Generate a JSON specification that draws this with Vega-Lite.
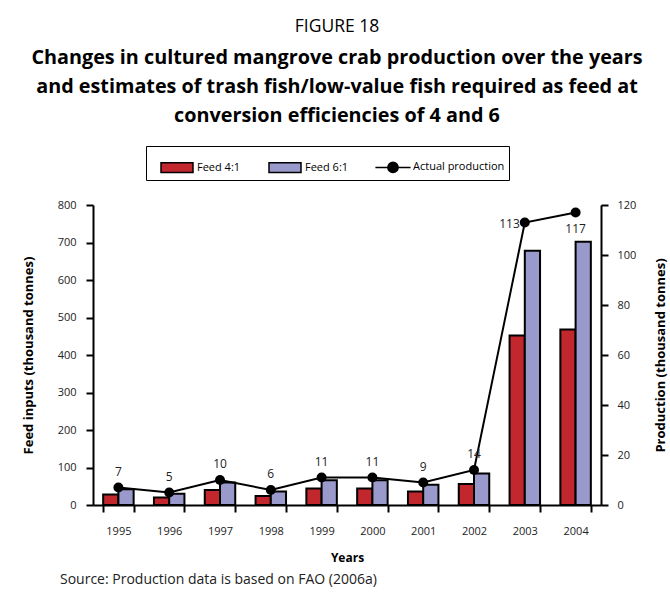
{
  "$schema": "https://vega.github.io/schema/vega-lite/v6.json",
  "padding": {"left": 22, "top": 18, "right": 2, "bottom": 4},
  "background": "white",
  "title": {
    "text": "FIGURE 18",
    "subtitle": ["Changes in cultured mangrove crab production over the years", "and estimates of trash fish/low-value fish required as feed at", "conversion efficiencies of 4 and 6"],
    "anchor": "middle",
    "dx": -8,
    "font": "Open Sans",
    "fontSize": 17.5,
    "fontWeight": "normal",
    "color": "black",
    "subtitleFont": "Open Sans",
    "subtitleFontSize": 19.8,
    "subtitleFontWeight": "bold",
    "subtitleColor": "black",
    "subtitleLineHeight": 29,
    "subtitlePadding": 12,
    "offset": 20
  },
  "data": {
    "values": [
      {"year": "1995", "series": "Feed 4:1", "value": 28},
      {"year": "1996", "series": "Feed 4:1", "value": 20},
      {"year": "1997", "series": "Feed 4:1", "value": 40},
      {"year": "1998", "series": "Feed 4:1", "value": 24},
      {"year": "1999", "series": "Feed 4:1", "value": 44},
      {"year": "2000", "series": "Feed 4:1", "value": 44},
      {"year": "2001", "series": "Feed 4:1", "value": 36},
      {"year": "2002", "series": "Feed 4:1", "value": 56},
      {"year": "2003", "series": "Feed 4:1", "value": 452},
      {"year": "2004", "series": "Feed 4:1", "value": 468},
      {"year": "1995", "series": "Feed 6:1", "value": 42},
      {"year": "1996", "series": "Feed 6:1", "value": 30},
      {"year": "1997", "series": "Feed 6:1", "value": 60},
      {"year": "1998", "series": "Feed 6:1", "value": 36},
      {"year": "1999", "series": "Feed 6:1", "value": 66},
      {"year": "2000", "series": "Feed 6:1", "value": 66},
      {"year": "2001", "series": "Feed 6:1", "value": 54},
      {"year": "2002", "series": "Feed 6:1", "value": 84},
      {"year": "2003", "series": "Feed 6:1", "value": 678},
      {"year": "2004", "series": "Feed 6:1", "value": 702},
      {"year": "1995", "series": "Actual production", "value": 7},
      {"year": "1996", "series": "Actual production", "value": 5},
      {"year": "1997", "series": "Actual production", "value": 10},
      {"year": "1998", "series": "Actual production", "value": 6},
      {"year": "1999", "series": "Actual production", "value": 11},
      {"year": "2000", "series": "Actual production", "value": 11},
      {"year": "2001", "series": "Actual production", "value": 9},
      {"year": "2002", "series": "Actual production", "value": 14},
      {"year": "2003", "series": "Actual production", "value": 113},
      {"year": "2004", "series": "Actual production", "value": 117}
    ]
  },
  "vconcat": [
    {
      "width": 508,
      "height": 300,
      "title": {
        "text": "Source: Production data is based on FAO (2006a)",
        "orient": "bottom",
        "anchor": "start",
        "frame": "group",
        "dx": -33,
        "offset": 10,
        "font": "Open Sans",
        "fontSize": 14,
        "fontWeight": "normal",
        "color": "#222"
      },
      "resolve": {"scale": {"y": "independent"}},
      "layer": [
        {
          "transform": [{"filter": "datum.series !== 'Actual production'"}],
          "mark": {"type": "bar", "stroke": "black", "strokeWidth": 2},
          "encoding": {
            "x": {
              "field": "year",
              "type": "ordinal",
              "title": "Years",
              "scale": {"paddingInner": 0.4, "paddingOuter": 0.2},
              "axis": {"labelAngle": 0, "tickBand": "extent", "labelPadding": 13, "titlePadding": 16}
            },
            "xOffset": {"field": "series", "type": "nominal", "sort": ["Feed 4:1", "Feed 6:1"], "scale": {"paddingInner": 0}},
            "y": {
              "field": "value",
              "type": "quantitative",
              "title": "Feed inputs (thousand tonnes)",
              "scale": {"domain": [0, 800]},
              "axis": {"values": [0, 100, 200, 300, 400, 500, 600, 700, 800], "orient": "left", "labelPadding": 10, "titlePadding": 22, "titleFontSize": 13}
            },
            "color": {
              "field": "series",
              "type": "nominal",
              "scale": {"domain": ["Feed 4:1", "Feed 6:1", "Actual production"], "range": ["#C1272D", "#9999CC", "black"]},
              "legend": {
                "orient": "none",
                "legendX": 53,
                "legendY": -59,
                "direction": "horizontal",
                "title": null,
                "strokeColor": "black",
                "padding": 4,
                "symbolOffset": 10,
                "columnPadding": 17,
                "symbolSize": 1024,
                "labelFont": "Open Sans",
                "labelFontSize": 11,
                "labelColor": "black",
                "labelOffset": 3,
                "encode": {
                  "legend": {"strokeWidth": {"value": 2}},
                  "symbols": {
                    "stroke": {"value": "black"},
                    "strokeWidth": {"value": 2},
                    "opacity": {"value": 1},
                    "fillOpacity": {"value": 1}
                  }
                }
              }
            }
          }
        },
        {
          "transform": [{"filter": "false"}],
          "mark": {"type": "point", "filled": true},
          "encoding": {
            "x": {"field": "year", "type": "ordinal", "title": "Years"},
            "color": {
              "field": "series",
              "type": "nominal",
              "scale": {"domain": ["Feed 4:1", "Feed 6:1", "Actual production"], "range": ["#C1272D", "#9999CC", "black"]}
            },
            "shape": {
              "field": "series",
              "type": "nominal",
              "scale": {"domain": ["Feed 4:1", "Feed 6:1", "Actual production"], "range": ["M-1,-0.3H1V0.3H-1Z", "M-1,-0.3H1V0.3H-1Z", "M-1.1,0H1.1M0.32,0A0.32,0.32 0 1 1 -0.32,0A0.32,0.32 0 1 1 0.32,0Z"]},
              "legend": {
                "orient": "none",
                "legendX": 53,
                "legendY": -59,
                "direction": "horizontal",
                "title": null,
                "strokeColor": "black",
                "padding": 4,
                "symbolOffset": 10,
                "columnPadding": 17,
                "symbolSize": 1024,
                "labelFont": "Open Sans",
                "labelFontSize": 11,
                "labelColor": "black",
                "labelOffset": 3
              }
            }
          }
        },
        {
          "transform": [{"filter": "datum.series === 'Actual production'"}],
          "encoding": {
            "x": {"field": "year", "type": "ordinal", "title": "Years"},
            "y": {
              "field": "value",
              "type": "quantitative",
              "title": "Production (thousand tonnes)",
              "scale": {"domain": [0, 120]},
              "axis": {"orient": "right", "values": [0, 20, 40, 60, 80, 100, 120], "labelPadding": 9, "titlePadding": 32, "titleAngle": 270, "titleFontSize": 13}
            }
          },
          "layer": [
            {
              "mark": {"type": "line", "color": "black", "strokeWidth": 2, "point": {"filled": true, "color": "black", "size": 100}}
            },
            {
              "transform": [{"filter": "datum.year < '2003'"}],
              "mark": {"type": "text", "dy": -16, "font": "Open Sans", "fontSize": 12, "color": "#222"},
              "encoding": {"text": {"field": "value", "type": "quantitative"}}
            },
            {
              "transform": [{"filter": "datum.year === '2003'"}],
              "mark": {"type": "text", "dx": -5, "dy": 1, "align": "right", "baseline": "middle", "font": "Open Sans", "fontSize": 12, "color": "#222"},
              "encoding": {"text": {"field": "value", "type": "quantitative"}}
            },
            {
              "transform": [{"filter": "datum.year === '2004'"}],
              "mark": {"type": "text", "dy": 16, "font": "Open Sans", "fontSize": 12, "color": "#222"},
              "encoding": {"text": {"field": "value", "type": "quantitative"}}
            }
          ]
        }
      ]
    }
  ],
  "config": {
    "view": {"stroke": null},
    "axis": {
      "domainColor": "black",
      "domainWidth": 2,
      "tickColor": "black",
      "tickWidth": 2,
      "tickSize": 7,
      "labelFont": "Open Sans",
      "labelFontSize": 11,
      "labelColor": "#222",
      "titleFont": "Open Sans",
      "titleFontSize": 12,
      "titleFontWeight": "bold",
      "titleColor": "black",
      "grid": false
    }
  }
}
